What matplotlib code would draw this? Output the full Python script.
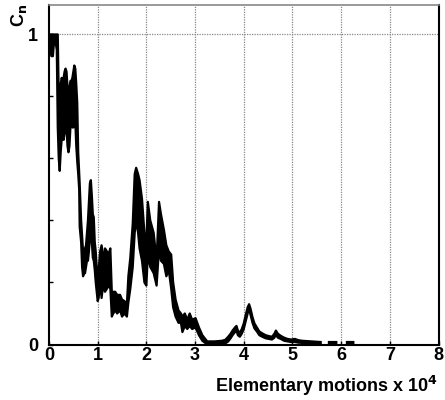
import numpy as np
import matplotlib
matplotlib.use("Agg")
import matplotlib.pyplot as plt

plt.rcParams['font.family'] = ['Liberation Sans', 'DejaVu Sans']

# x in units of 10^4 elementary motions; the noisy C_n trace is read as a
# lower / upper envelope at each x position
x_vals = [0.00, 0.02, 0.05, 0.08, 0.10, 0.13, 0.16, 0.18, 0.20, 0.22, 0.24, 0.26, 0.28, 0.30,
          0.32, 0.34, 0.36, 0.38, 0.40, 0.42, 0.44, 0.46, 0.48, 0.50, 0.52, 0.54, 0.56, 0.58,
          0.60, 0.62, 0.63, 0.66, 0.68, 0.70, 0.72, 0.74, 0.76, 0.78, 0.80, 0.82, 0.84, 0.86,
          0.88, 0.90, 0.92, 0.94, 0.96, 0.98, 1.00, 1.02, 1.05, 1.08, 1.11, 1.13, 1.15, 1.19,
          1.22, 1.26, 1.29, 1.32, 1.36, 1.40, 1.46, 1.50, 1.55, 1.60, 1.63, 1.67, 1.72, 1.76,
          1.79, 1.83, 1.86, 1.91, 1.96, 2.00, 2.03, 2.08, 2.15, 2.21, 2.26, 2.30, 2.36, 2.41,
          2.46, 2.51, 2.55, 2.60, 2.66, 2.71, 2.74, 2.79, 2.84, 2.89, 2.94, 3.01, 3.08, 3.15,
          3.25, 3.40, 3.55, 3.62, 3.68, 3.73, 3.77, 3.82, 3.85, 3.88, 3.92, 3.96, 4.00, 4.04,
          4.08, 4.11, 4.14, 4.18, 4.22, 4.27, 4.32, 4.38, 4.45, 4.52, 4.58, 4.63, 4.66, 4.70,
          4.76, 4.83, 4.90, 4.97, 5.05, 5.12, 5.20, 5.30, 5.40, 5.50, 5.58, 5.66, 5.75, 5.90,
          6.00, 6.12, 6.25]
c_low = [0.97, 0.95, 0.93, 0.93, 0.97, 0.98, 0.95, 0.70, 0.60, 0.56, 0.62, 0.66, 0.68, 0.66,
         0.68, 0.70, 0.70, 0.64, 0.62, 0.64, 0.70, 0.72, 0.70, 0.70, 0.71, 0.72, 0.64, 0.59,
         0.55, 0.50, 0.38, 0.33, 0.25, 0.22, 0.23, 0.23, 0.25, 0.27, 0.27, 0.30, 0.34, 0.35,
         0.33, 0.28, 0.27, 0.24, 0.20, 0.17, 0.14, 0.15, 0.20, 0.15, 0.19, 0.18, 0.17, 0.18,
         0.19, 0.18, 0.09, 0.10, 0.11, 0.10, 0.11, 0.09, 0.10, 0.09, 0.135, 0.18, 0.25, 0.36,
         0.40, 0.36, 0.31, 0.27, 0.20, 0.19, 0.29, 0.25, 0.23, 0.19, 0.31, 0.27, 0.26, 0.22,
         0.24, 0.18, 0.12, 0.09, 0.07, 0.07, 0.04, 0.06, 0.05, 0.06, 0.05, 0.055, 0.03, 0.012,
         0.000, 0.000, 0.000, 0.003, 0.010, 0.020, 0.030, 0.040, 0.045, 0.030, 0.025, 0.035, 0.050, 0.075,
         0.100, 0.115, 0.095, 0.070, 0.052, 0.042, 0.030, 0.025, 0.020, 0.018, 0.016, 0.022, 0.032, 0.022,
         0.018, 0.012, 0.010, 0.008, 0.008, 0.006, 0.005, 0.004, 0.003, 0.003, 0.002, np.nan, 0.002, 0.002,
         np.nan, 0.002, 0.002]
c_high = [1.00, 1.00, 1.00, 1.00, 1.00, 1.00, 1.00, 1.00, 0.80, 0.75, 0.84, 0.86, 0.85, 0.86,
          0.88, 0.89, 0.88, 0.83, 0.80, 0.83, 0.85, 0.85, 0.86, 0.88, 0.90, 0.89, 0.84, 0.78,
          0.62, 0.55, 0.52, 0.40, 0.35, 0.30, 0.30, 0.31, 0.32, 0.36, 0.40, 0.46, 0.52, 0.53,
          0.48, 0.42, 0.41, 0.33, 0.30, 0.25, 0.21, 0.24, 0.30, 0.32, 0.29, 0.22, 0.31, 0.30,
          0.29, 0.31, 0.17, 0.17, 0.17, 0.16, 0.16, 0.145, 0.14, 0.13, 0.22, 0.28, 0.39, 0.55,
          0.57, 0.55, 0.53, 0.47, 0.36, 0.33, 0.46, 0.40, 0.36, 0.27, 0.46, 0.42, 0.37, 0.32,
          0.30, 0.29, 0.20, 0.145, 0.11, 0.10, 0.09, 0.10, 0.08, 0.10, 0.08, 0.085, 0.055, 0.03,
          0.010, 0.010, 0.012, 0.015, 0.025, 0.035, 0.045, 0.055, 0.060, 0.045, 0.038, 0.050, 0.068, 0.095,
          0.120, 0.130, 0.115, 0.088, 0.068, 0.055, 0.042, 0.036, 0.030, 0.027, 0.025, 0.035, 0.045, 0.035,
          0.028, 0.022, 0.018, 0.016, 0.018, 0.014, 0.012, 0.011, 0.010, 0.009, 0.008, np.nan, 0.008, 0.008,
          np.nan, 0.008, 0.008]

x_ticks = [0, 1, 2, 3, 4, 5, 6, 7, 8]
y_ticks = [0, 0.2, 0.4, 0.6, 0.8, 1.0]
y_tick_labels = ['0', '', '', '', '', '1']

fig = plt.figure(figsize=(4.45, 4.0), dpi=100)
ax = fig.add_axes([49/445, 1 - 344.5/400, (438.5-49)/445, (344.5-5)/400])

ax.fill_between(x_vals, c_low, c_high, color='black', lw=0)
ax.plot(x_vals, c_low, color='black', lw=1.6)
ax.plot(x_vals, c_high, color='black', lw=1.6)

ax.set_xlim(0, 8)
ax.set_ylim(0, 1.095)
ax.set_xticks(x_ticks)
ax.set_xticklabels([str(t) for t in x_ticks], fontweight='bold', fontsize=13)
ax.set_yticks(y_ticks)
ax.set_yticklabels(y_tick_labels, fontweight='bold', fontsize=13)
ax.tick_params(axis='both', direction='in', length=3, width=1)
ax.tick_params(axis='x', pad=2)
ax.tick_params(axis='y', pad=8)

for xv in x_ticks[1:-1]:
    ax.axvline(xv, color='#888888', lw=0.9, ls=(0, (1, 1)), zorder=0)
ax.axhline(1.0, color='#888888', lw=0.9, ls=(0, (1, 1)), zorder=0)

for s in ['left', 'bottom', 'right']:
    ax.spines[s].set_color('black')
    ax.spines[s].set_linewidth(1.5)
ax.spines['top'].set_color('#888888')
ax.spines['top'].set_linewidth(1.2)

fig.text(437/445, 1 - 392/400, r'Elementary motions x 10$^\mathbf{4}$', ha='right', va='baseline',
         fontweight='bold', fontsize=13)
fig.text(19/445, 1 - 4/400, r'C$_\mathbf{n}$', rotation=90, ha='center', va='top',
         fontweight='bold', fontsize=13)

fig.savefig('out.png', dpi=100)
